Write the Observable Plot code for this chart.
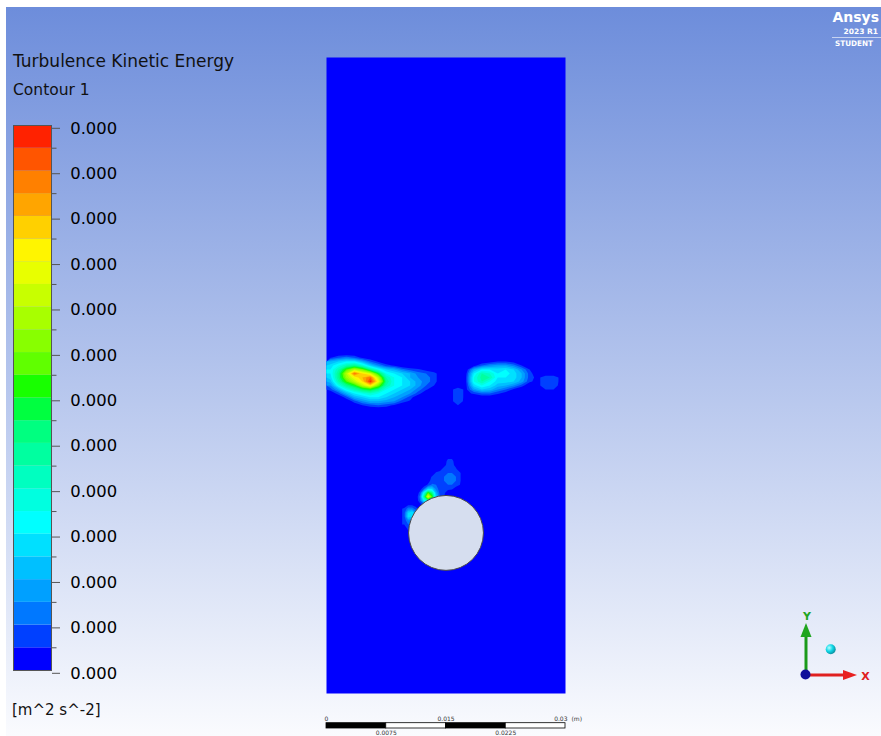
<!DOCTYPE html>
<html><head><meta charset="utf-8">
<script src="https://cdn.jsdelivr.net/npm/d3@7"></script>
<script src="https://cdn.jsdelivr.net/npm/@observablehq/plot@0.6"></script>
<style>
html,body{margin:0;padding:0;}
body{width:881px;height:736px;position:relative;overflow:hidden;background:#fff;font-family:"DejaVu Sans",sans-serif;}
#bg{position:absolute;left:6px;top:7px;right:0;bottom:0;background:linear-gradient(180deg,#6d8ddb 0%,#fafbfe 100%);}
.layer{position:absolute;left:0;top:0;width:881px;}
</style></head><body>
<div id="bg"></div>
<div class="layer" id="main"></div>
<div class="layer" id="legend"></div>
<div class="layer" id="scalebar" style="top:700px"></div>
<svg class="layer" id="anno" width="881" height="736" style="pointer-events:none">
  <defs>
    <radialGradient id="sph" cx="0.35" cy="0.35" r="0.7">
      <stop offset="0" stop-color="#b8ffff"/><stop offset="0.5" stop-color="#10d8e8"/><stop offset="1" stop-color="#0a8a9a"/>
    </radialGradient>
  </defs>
  <g font-family="DejaVu Sans, sans-serif" fill="#111">
    <text x="13" y="67.3" font-size="17">Turbulence Kinetic Energy</text>
    <text x="13" y="95" font-size="15.5">Contour 1</text>
    <text x="12" y="715" font-size="15">[m^2 s^-2]</text>
  </g>
  <g font-family="DejaVu Sans, sans-serif" font-weight="bold" fill="#fff">
    <text x="879" y="21.7" font-size="14" text-anchor="end">Ansys</text>
    <text x="878" y="33.5" font-size="7.5" text-anchor="end">2023 R1</text>
    <line x1="832" x2="881" y1="37.5" y2="37.5" stroke="#fff" stroke-opacity="0.75" stroke-width="0.8"/>
    <text x="835" y="46.3" font-size="7.5" textLength="38" lengthAdjust="spacingAndGlyphs">STUDENT</text>
  </g>
  <g>
    <line x1="806" x2="806" y1="675" y2="636" stroke="#1a9a1a" stroke-width="3"/>
    <polygon points="800.5,637 811.5,637 806,623" fill="#1fa51f"/>
    <text x="807" y="619.5" font-size="11" font-weight="bold" fill="#1fa51f" text-anchor="middle" font-family="DejaVu Sans, sans-serif">Y</text>
    <line x1="806" x2="845" y1="675" y2="675" stroke="#e02020" stroke-width="3"/>
    <polygon points="843,670 843,680 857,675" fill="#e82020"/>
    <text x="865.5" y="679.5" font-size="11" font-weight="bold" fill="#e02020" text-anchor="middle" font-family="DejaVu Sans, sans-serif">X</text>
    <circle cx="805.5" cy="674.5" r="5" fill="#10109a"/>
    <circle cx="830.7" cy="649.3" r="5" fill="url(#sph)"/>
  </g>
</svg>
<script>
// ---- colour levels (24 bands) ----
const bandColors = ["#0000ff","#0040ff","#0078ff","#00a0ff","#00c0ff","#00e0ff","#00ffff","#00ffe0",
  "#00ffc0","#00ffa0","#00ff80","#00ff40","#18ff00","#60ff00","#88ff00","#a8ff00",
  "#c8ff00","#e8ff00","#fff500","#ffd000","#ffa500","#ff8000","#ff5500","#ff2200"];
const levelBounds = [1,2,3,4,5,6,7,8,9,10,11,12,13,14,15,16,17,18,19,20,21,22,23];
const legendTicks = [0,2,4,6,8,10,12,14,16,18,20,22,24];
const legendMinor = [1,3,5,7,9,11,13,15,17,19,21,23];
const legendLabels = ["0.000","0.000","0.000","0.000","0.000","0.000","0.000","0.000","0.000","0.000","0.000","0.000","0.000"];

// ---- domain (m) ----
const domainX = [0, 0.03];
const domainY = [0, 0.08];
const cylinderX = [0.015];
const cylinderY = [0.0202];
const cylinderR = [0.0047];

// ---- scale bar (m) ----
const scaleStops = [0, 0.0075, 0.015, 0.0225, 0.03];
const scaleFills = ["black","white","black","white"];
const scaleTopTicks = [0, 0.015];
const scaleTopLabels = ["0", "0.015"];
const scaleEndTick = [0.03];
const scaleEndLabel = ["0.03"];
const scaleUnit = ["(m)"];
const scaleBottomTicks = [0.0075, 0.0225];
const scaleBottomLabels = ["0.0075", "0.0225"];

// ---- turbulence field samples (level units), rows top -> bottom ----
// wake band, left part: x 0..0.015 m, y 0.043..0.0355 m
const wakeLeftExtent = [0, 0.043, 0.015, 0.0355];
const wakeLeft = [
 [0,0,0,0,0,0,0,0,0,0,0,0,0,0,0],
 [0.8,1.8,2.5,1.8,0.6,0,0,0,0,0,0,0,0,0,0],
 [4,5,6,6,4,2,0.8,0,0,0,0,0,0,0,0],
 [5.5,7,9,10,8,5,3,1.5,0.8,0,0,0,0,0,0],
 [6,9,13,16,14,10,7,5,4,2.5,1.5,1.2,0.6,0,0],
 [6,10,16,22,19,17,12,7,6,5,4,2.5,2,1.5,0],
 [5.5,10,15,18,20,22,16,9,7,6,4,3,2.5,1.5,0],
 [4.5,9,13,16,19,23.5,18,10,7,6,5,3.5,2.5,1.5,0],
 [3,7,10,12,16,19,14,9,7,6,5,3.5,2,1,0],
 [1.5,4,7,9,11,12,10,7,6,5,4,2.5,1.2,0,0],
 [0,1.5,4,6,7,8,7,6,5,4,3,1.5,0,0,0],
 [0,0,1.5,4,5,6,6,5,4,3,1.5,0,0,0,0],
 [0,0,0,1.5,3,4,4,3.5,3,1.5,0.8,0,0,0,0],
 [0,0,0,0,1,1.5,2,1.5,0.8,0,0,0,0,0,0],
 [0,0,0,0,0,0,0,0,0,0,0,0,0,0,0]
];
// wake band, right part: x 0.015..0.03 m, y 0.043..0.0355 m
const wakeRightExtent = [0.015, 0.043, 0.03, 0.0355];
const wakeRight = [
 [0,0,0,0,0,0,0,0,0,0,0,0,0,0,0],
 [0,0,0,0,0,0,0,0,0,0,0,0,0,0,0],
 [0,0,0,0,0,0.5,1,1,0.5,0,0,0,0,0,0],
 [0,0,0,0.5,2,3,3.5,3.5,2.5,1,0,0,0,0,0],
 [0,0,0,4,6,6,5.5,6,5,3,1,0,0,0,0],
 [0,0,0.6,6,9,8,6,6.5,5.5,4,1.5,0,0,0,0],
 [0,0,0.8,7,9.5,9,6,6,5.5,4,1.5,0.6,1.8,1.8,0.5],
 [0,0,0.8,7,9,7,5.5,5.5,5,3.5,1.2,0.6,1.8,1.8,0.5],
 [0,0,0.6,5.5,7,6,4.5,4,3,1.5,0,0.6,1.8,1.8,0.3],
 [0.5,1.8,0.6,3.5,5,4.5,3,2,0.8,0,0,0,1,1,0],
 [0.5,1.8,0.6,1.2,2,2,1.2,0.4,0,0,0,0,0,0,0],
 [0.5,1.8,0.6,0,0,0,0,0,0,0,0,0,0,0,0],
 [0.5,1.8,0.5,0,0,0,0,0,0,0,0,0,0,0,0],
 [0.2,1,0,0,0,0,0,0,0,0,0,0,0,0,0],
 [0,0,0,0,0,0,0,0,0,0,0,0,0,0,0]
];
// around the cylinder: x 0.0095..0.0175 m, y 0.0295..0.0205 m
const cylinderZoneExtent = [0.0095, 0.0295, 0.0175, 0.0205];
const cylinderZone = [
 [0,0,0,0,0,0,0,0,0,0,0,1.5,1.5,0,0,0],
 [0,0,0,0,0,0,0,0,0,0,0.5,1.5,1.5,0.5,0,0],
 [0,0,0,0,0,0,0,0,0,0.5,1.5,1.5,1.5,1.2,0,0],
 [0,0,0,0,0,0,0,0,1.2,1.5,1.5,2,2,1.5,1.2,0],
 [0,0,0,0,0,0,0,1.2,1.5,1.5,2,2.5,2.5,2,1.2,0],
 [0,0,0,0,0,0,0.5,1.5,1.5,1.8,2,2.5,2.5,2,1.2,0],
 [0,0,0,0,0,0.3,1.2,2.2,2,1.5,1.5,2,2,1.5,1,0],
 [0,0,0,0,0.3,2,5,5,2.5,1.5,1.5,1.2,1.2,0.5,0,0],
 [0,0,0,0,1.5,7,13,10,4,1.5,1.2,0.5,0,0,0,0],
 [0,0,0,0,2.5,10,18,13,5,2,1,0,0,0,0,0],
 [0,0,0,0,2,6,9,7,3,1,0,0,0,0,0,0],
 [0,0.8,0.8,0.3,0.5,1.5,2,1,0,0,0,0,0,0,0,0],
 [1.2,2.5,2.5,1.5,0,0,0,0,0,0,0,0,0,0,0,0],
 [1.5,5,6,3,0,0,0,0,0,0,0,0,0,0,0,0],
 [1.5,5.5,5,2,0,0,0,0,0,0,0,0,0,0,0,0],
 [1.2,3,2.5,1,0,0,0,0,0,0,0,0,0,0,0,0],
 [1,2,1.5,0.5,0,0,0,0,0,0,0,0,0,0,0,0],
 [0.5,1.2,0.5,0,0,0,0,0,0,0,0,0,0,0,0,0]
];

const colorScale = {type: "threshold", domain: levelBounds, range: bandColors};
const W = 881, H = 736;
const M = {left: 326, right: 316, top: 57, bottom: 43};

function field(rows, ext) {
  return Plot.contour(rows.flat(), {
    width: rows[0].length, height: rows.length,
    x1: ext[0], y1: ext[1], x2: ext[2], y2: ext[3],
    fill: Plot.identity, thresholds: levelBounds, stroke: "none"
  });
}

const pxPerM = (W - M.left - M.right) / (domainX[1] - domainX[0]);
const cylinder = cylinderX.map((x, i) => ({x, y: cylinderY[i], r: cylinderR[i]}));

const main = Plot.plot({
  width: W, height: H,
  marginLeft: M.left, marginRight: M.right, marginTop: M.top, marginBottom: M.bottom,
  x: {domain: domainX, axis: null},
  y: {domain: domainY, axis: null},
  color: colorScale,
  style: {background: "transparent"},
  marks: [
    Plot.frame({fill: bandColors[0], stroke: "none"}),
    field(wakeLeft, wakeLeftExtent),
    field(wakeRight, wakeRightExtent),
    field(cylinderZone, cylinderZoneExtent),
    Plot.dot(cylinder, {x: "x", y: "y", r: cylinder[0].r * pxPerM, fill: "#d6deef", stroke: "#4a4a4a", strokeWidth: 1})
  ]
});
document.getElementById("main").appendChild(main);

// ---- colour legend ----
const bandLevels = d3.range(bandColors.length);
const legend = Plot.plot({
  width: 140, height: H,
  marginTop: 125, marginBottom: 66, marginLeft: 13, marginRight: 89,
  x: {domain: [0, 1], axis: null},
  y: {domain: [0, bandColors.length], axis: null},
  color: colorScale,
  style: {background: "transparent", fontFamily: "DejaVu Sans, sans-serif", color: "black"},
  marks: [
    Plot.rect(bandLevels, {x1: 0, x2: 1, y1: d => d, y2: d => d + 1, fill: d => d}),
    Plot.frame({stroke: "#555"}),
    Plot.axisY(legendMinor, {anchor: "right", tickSize: 4.5, tickFormat: () => "", stroke: "#555", label: null}),
    Plot.axisY(legendTicks, {anchor: "right", tickSize: 8, tickPadding: 10.7, label: null,
      tickFormat: d => legendLabels[legendTicks.indexOf(d)], fontSize: 16.4, dy: 2.8, stroke: "#555", fill: "black"})
  ]
});
document.getElementById("legend").appendChild(legend);

// ---- scale bar ----
const segs = scaleFills.map((f, i) => ({x1: scaleStops[i], x2: scaleStops[i + 1], fill: f}));
const bar = Plot.plot({
  width: W, height: 36,
  marginLeft: M.left, marginRight: M.right, marginTop: 22.7, marginBottom: 8,
  x: {domain: domainX, axis: null},
  color: {type: "identity"},
  style: {background: "transparent", fontFamily: "DejaVu Sans, sans-serif"},
  marks: [
    Plot.rect(segs, {x1: "x1", x2: "x2", fill: "fill", stroke: "black", strokeWidth: 0.8}),
    Plot.text(scaleTopTicks, {x: d => d, text: (d, i) => scaleTopLabels[i], frameAnchor: "top", lineAnchor: "bottom", dy: -2, fontSize: 6, fill: "#333"}),
    Plot.text(scaleEndTick, {x: d => d, text: (d, i) => scaleEndLabel[i], textAnchor: "end", frameAnchor: "top", lineAnchor: "bottom", dy: -2, dx: 2, fontSize: 6, fill: "#333"}),
    Plot.text(scaleEndTick, {x: d => d, text: (d, i) => scaleUnit[i], textAnchor: "start", frameAnchor: "top", lineAnchor: "bottom", dy: -2, dx: 6, fontSize: 6, fill: "#333"}),
    Plot.text(scaleBottomTicks, {x: d => d, text: (d, i) => scaleBottomLabels[i], frameAnchor: "bottom", lineAnchor: "top", dy: 2, fontSize: 6, fill: "#333"})
  ]
});
document.getElementById("scalebar").appendChild(bar);
</script>
</body></html>
